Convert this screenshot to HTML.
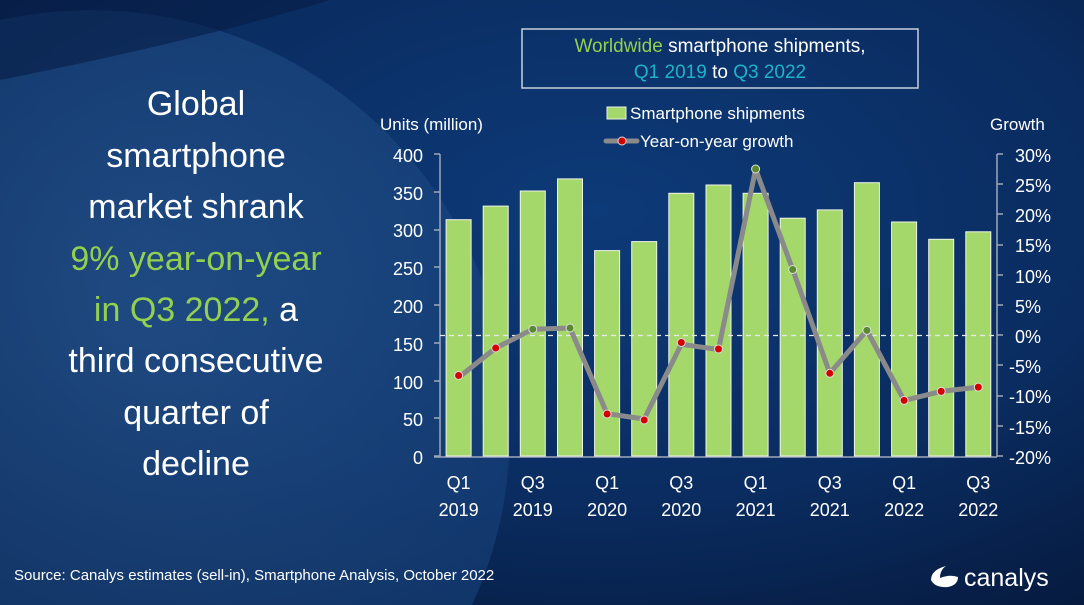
<!DOCTYPE html><html><head><meta charset="utf-8"><style>html,body{margin:0;padding:0;width:1084px;height:605px;overflow:hidden;position:relative}svg{display:block;position:absolute;left:0;top:0}text{font-family:"Liberation Sans","DejaVu Sans",sans-serif}</style></head><body>
<svg width="1084" height="605" viewBox="0 0 1084 605" xmlns="http://www.w3.org/2000/svg" overflow="hidden">
<defs>
<radialGradient id="bg" cx="0.55" cy="0.35" r="0.8"><stop offset="0" stop-color="#0d3a78"/><stop offset="0.6" stop-color="#0a2c60"/><stop offset="1" stop-color="#061a3e"/></radialGradient>
<radialGradient id="arc" gradientUnits="userSpaceOnUse" cx="150" cy="300" r="420"><stop offset="0" stop-color="#28568e"/><stop offset="1" stop-color="#153e76"/></radialGradient>
</defs>
<rect width="1084" height="605" fill="url(#bg)"/>
<path d="M0 20 A420 420 0 0 1 472 605 L0 605 Z" fill="url(#arc)" opacity="0.7"/>
<path d="M0 0 L330 0 Q200 40 0 80 Z" fill="#071d45" opacity="0.6"/>
<g font-size="34" fill="#fff" text-anchor="middle">
<text x="196" y="115">Global</text>
<text x="196" y="167">smartphone</text>
<text x="196" y="218">market shrank</text>
<text x="196" y="270" fill="#92d050">9% year-on-year</text>
<text x="196" y="321"><tspan fill="#92d050">in Q3 2022,</tspan> a</text>
<text x="196" y="372">third consecutive</text>
<text x="196" y="424">quarter of</text>
<text x="196" y="475">decline</text>
</g>
<rect x="522" y="29" width="396" height="59" fill="none" stroke="#c8d0dc" stroke-width="1.5"/>
<text x="720" y="52" font-size="19" fill="#fff" text-anchor="middle"><tspan fill="#92d050">Worldwide</tspan> smartphone shipments,</text>
<text x="720" y="78" font-size="19" fill="#fff" text-anchor="middle"><tspan fill="#1fb3c8">Q1 2019</tspan> to <tspan fill="#1fb3c8">Q3 2022</tspan></text>
<rect x="607" y="107" width="19" height="12" fill="#a5d86a" stroke="#e8f0e0" stroke-width="1"/>
<text x="630" y="119" font-size="17" fill="#fff">Smartphone shipments</text>
<line x1="606" y1="141" x2="637" y2="141" stroke="#8a8a8a" stroke-width="5" stroke-linecap="round"/>
<circle cx="622" cy="141" r="4" fill="#d40000" stroke="#ddd" stroke-width="1"/>
<text x="640" y="147" font-size="17" fill="#fff">Year-on-year growth</text>
<text x="380" y="130" font-size="17" fill="#fff">Units (million)</text>
<text x="990" y="130" font-size="17" fill="#fff">Growth</text>
<g font-size="18" fill="#fff" text-anchor="end">
<text x="423" y="162">400</text><text x="423" y="200">350</text><text x="423" y="237">300</text><text x="423" y="275">250</text><text x="423" y="313">200</text><text x="423" y="351">150</text><text x="423" y="389">100</text><text x="423" y="426">50</text><text x="423" y="464">0</text>
</g>
<g font-size="18" fill="#fff">
<text x="1015" y="162">30%</text><text x="1015" y="192">25%</text><text x="1015" y="222">20%</text><text x="1015" y="252">15%</text><text x="1015" y="283">10%</text><text x="1015" y="313">5%</text><text x="1015" y="343">0%</text><text x="1009" y="373">-5%</text><text x="1009" y="403">-10%</text><text x="1009" y="434">-15%</text><text x="1009" y="464">-20%</text>
</g>
<g stroke="#a0a8b8" stroke-width="1.5" fill="none">
<path d="M440 154 V457 M434 154H440 M434 192H440 M434 230H440 M434 267H440 M434 305H440 M434 343H440 M434 381H440 M434 418H440 M434 456H440"/>
<path d="M997 154 V457 M997 154H1003 M997 184H1003 M997 214H1003 M997 245H1003 M997 275H1003 M997 305H1003 M997 335H1003 M997 365H1003 M997 396H1003 M997 426H1003 M997 456H1003"/>
<path d="M434 457 H997"/>
</g>
<g fill="#a5d86a" stroke="#f0f4ea" stroke-width="1">
<rect x="446.1" y="219.7" width="25" height="236.3"/>
<rect x="483.2" y="206.1" width="25" height="249.9"/>
<rect x="520.3" y="191" width="25" height="265"/>
<rect x="557.5" y="178.9" width="25" height="277.1"/>
<rect x="594.6" y="250.6" width="25" height="205.4"/>
<rect x="631.7" y="241.6" width="25" height="214.4"/>
<rect x="668.8" y="193.3" width="25" height="262.7"/>
<rect x="706" y="185" width="25" height="271"/>
<rect x="743.1" y="193.3" width="25" height="262.7"/>
<rect x="780.2" y="218.2" width="25" height="237.8"/>
<rect x="817.3" y="209.9" width="25" height="246.1"/>
<rect x="854.4" y="182.7" width="25" height="273.3"/>
<rect x="891.6" y="222" width="25" height="234"/>
<rect x="928.7" y="239.3" width="25" height="216.7"/>
<rect x="965.8" y="231.8" width="25" height="224.2"/>
</g>
<line x1="440" y1="335.5" x2="997" y2="335.5" stroke="#e8e8e8" stroke-width="1.3" stroke-dasharray="5,4"/>
<polyline fill="none" stroke="#8a8a8a" stroke-width="5" stroke-linejoin="round" points="458.6,377.5 495.7,348 532.8,329.2 570,328 607.1,413.7 644.2,419 681.3,344.3 718.5,349.5 755.6,169.1 792.7,269.5 829.8,373.3 866.9,330.4 904.1,400.4 941.2,391.4 978.3,387.1"/>
<g stroke="#ddd" stroke-width="1">
<circle cx="458.6" cy="375.5" r="4" fill="#d40000"/>
<circle cx="495.7" cy="348" r="4" fill="#d40000"/>
<circle cx="532.8" cy="329.2" r="4" fill="#5a8a30"/>
<circle cx="570" cy="328" r="4" fill="#5a8a30"/>
<circle cx="607.1" cy="414" r="4" fill="#d40000"/>
<circle cx="644.2" cy="420" r="4" fill="#d40000"/>
<circle cx="681.3" cy="342.5" r="4" fill="#d40000"/>
<circle cx="718.5" cy="349" r="4" fill="#d40000"/>
<circle cx="755.6" cy="169" r="4" fill="#5a8a30"/>
<circle cx="792.7" cy="269.5" r="4" fill="#5a8a30"/>
<circle cx="829.8" cy="373.3" r="4" fill="#d40000"/>
<circle cx="866.9" cy="330.4" r="4" fill="#5a8a30"/>
<circle cx="904.1" cy="400.4" r="4" fill="#d40000"/>
<circle cx="941.2" cy="391.4" r="4" fill="#d40000"/>
<circle cx="978.3" cy="387.1" r="4" fill="#d40000"/>
</g>
<g font-size="18" fill="#fff" text-anchor="middle">
<text x="458.6" y="489">Q1</text><text x="458.6" y="516">2019</text>
<text x="532.8" y="489">Q3</text><text x="532.8" y="516">2019</text>
<text x="607.1" y="489">Q1</text><text x="607.1" y="516">2020</text>
<text x="681.3" y="489">Q3</text><text x="681.3" y="516">2020</text>
<text x="755.6" y="489">Q1</text><text x="755.6" y="516">2021</text>
<text x="829.8" y="489">Q3</text><text x="829.8" y="516">2021</text>
<text x="904.1" y="489">Q1</text><text x="904.1" y="516">2022</text>
<text x="978.3" y="489">Q3</text><text x="978.3" y="516">2022</text>
</g>
<text x="14" y="580" font-size="15" fill="#fff">Source: Canalys estimates (sell-in), Smartphone Analysis, October 2022</text>
<path d="M946 566 Q931 570 931 580 Q935 588 948 587 Q958 585 958 577 Q950 574 940 578 Q940 570 946 566 Z" fill="#fff"/>
<text x="964" y="586" font-size="25" fill="#fff">canalys</text>
</svg>
</body></html>
